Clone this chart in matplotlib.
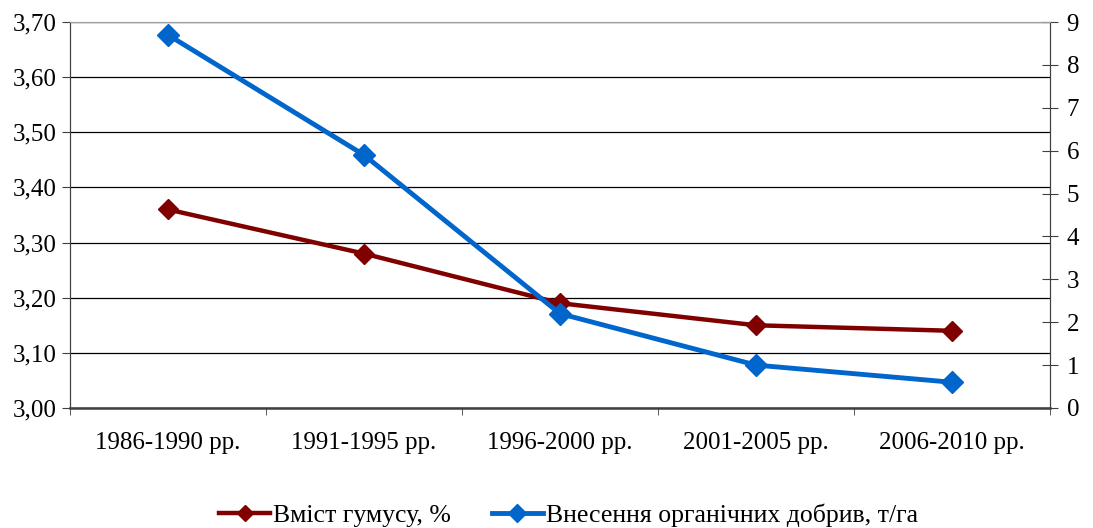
import numpy as np
import matplotlib
matplotlib.use("Agg")
import matplotlib.pyplot as plt
from matplotlib.ticker import FuncFormatter

periods = ["1986-1990 рр.", "1991-1995 рр.", "1996-2000 рр.", "2001-2005 рр.", "2006-2010 рр."]
humus = [3.36, 3.28, 3.19, 3.15, 3.14]
organic = [8.7, 5.9, 2.2, 1.0, 0.6]
label_humus = "Вміст гумусу, %"
label_organic = "Внесення органічних добрив, т/га"

plt.rcParams['font.family'] = ['Liberation Serif', 'DejaVu Serif']

fig = plt.figure(figsize=(10.93, 5.28), dpi=100)
ax = fig.add_axes([0.064, 0.2273, 0.8967, 0.731])
ax2 = ax.twinx()

x = np.arange(len(periods))
l1, = ax.plot(x, humus, color="#800000", lw=3.2, marker="D", ms=10, label=label_humus, zorder=3)
l2, = ax2.plot(x, organic, color="#0066cc", lw=3.5, marker="D", ms=11, label=label_organic, zorder=3)

ax.set_xlim(-0.5, len(periods) - 0.5)
ax.set_ylim(3.0, 3.7)
ax.set_yticks(np.arange(3.0, 3.71, 0.1))
ax.yaxis.set_major_formatter(FuncFormatter(lambda v, p: ("%.2f" % v).replace(".", ",")))
ax2.set_ylim(0, 9)
ax2.set_yticks(range(0, 10))

ax.set_xticks(x)
ax.set_xticklabels(periods)
ax.set_xticks(np.arange(-0.5, len(periods), 1), minor=True)
ax.tick_params(axis="x", which="major", length=0, pad=17, labelsize=18)
ax.tick_params(axis="x", which="minor", length=5, direction="out", color="#404040")
ax.tick_params(axis="y", length=6, direction="out", labelsize=18, color="#404040")
ax2.tick_params(axis="y", length=12, direction="inout", labelsize=18, pad=6, color="#404040")

ax.grid(axis="y", color="black", lw=0.9)
ax.set_axisbelow(True)
for s in ["left", "bottom", "right"]:
    ax.spines[s].set_color("#404040")
    ax2.spines[s].set_color("#404040")
ax.spines["bottom"].set_linewidth(1.8)
ax.spines["top"].set_color("#a0a0a0")
ax2.spines["top"].set_color("#a0a0a0")

fig.legend([l1, l2], [label_humus, label_organic], loc="lower center", ncol=2,
           bbox_to_anchor=(0.52, -0.042), frameon=False, fontsize=18.5,
           handlelength=2.0, columnspacing=1.6, handletextpad=0.1, markerscale=0.85)

fig.savefig("out.png", dpi=100)
